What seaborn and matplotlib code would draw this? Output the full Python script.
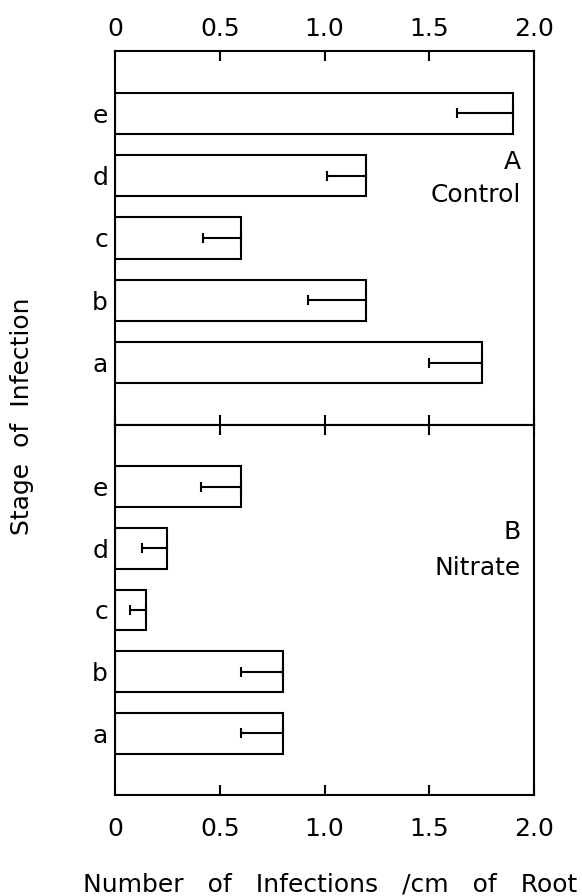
import matplotlib
matplotlib.use("Agg")
import matplotlib.pyplot as plt
import seaborn as sns
import numpy as np
import pandas as pd

stages = ["e", "d", "c", "b", "a"]
control_vals = [1.90, 1.20, 0.60, 1.20, 1.75]
control_err = [0.27, 0.19, 0.18, 0.28, 0.25]
nitrate_vals = [0.60, 0.25, 0.15, 0.80, 0.80]
nitrate_err = [0.19, 0.12, 0.08, 0.20, 0.20]
x_ticks = [0, 0.5, 1.0, 1.5, 2.0]
x_tick_labels = ["0", "0.5", "1.0", "1.5", "2.0"]

sns.set_style("white")
plt.rcParams['font.family'] = ['DejaVu Sans']
plt.rcParams['text.color'] = 'black'
plt.rcParams['xtick.color'] = 'black'
plt.rcParams['ytick.color'] = 'black'
plt.rcParams['axes.labelcolor'] = 'black'

FS = 18

fig = plt.figure(figsize=(5.82, 8.96), dpi=100)
ax1 = fig.add_axes([0.1976, 0.5257, 0.72, 0.4174])
ax2 = fig.add_axes([0.1976, 0.1127, 0.72, 0.4130])

def panel(ax, vals, errs, letter, name, top, ly, ny):
    df = pd.DataFrame({"stage": stages, "value": vals})
    sns.barplot(data=df, x="value", y="stage", order=stages, color="white",
                edgecolor="black", linewidth=1.5, width=0.66, ax=ax,
                saturation=1)
    pos = np.arange(len(stages))
    ax.errorbar(vals, pos, xerr=[errs, [0] * len(errs)], fmt="none",
                ecolor="black", elinewidth=1.5, capsize=3.5, capthick=1.5)
    ax.set_xlim(0, 2.0)
    ax.set_ylim(5, -1)
    ax.set_xlabel("")
    ax.set_ylabel("")
    for s in ax.spines.values():
        s.set_linewidth(1.5)
        s.set_color("black")
        s.set_visible(True)
    ax.set_xticks(x_ticks)
    ax.set_xticklabels(x_tick_labels)
    ax.tick_params(axis="x", direction="in", length=7, width=1.5,
                   top=True, bottom=True, labeltop=top, labelbottom=not top,
                   labelsize=FS, pad=7 if top else 16)
    ax.tick_params(axis="y", length=0, labelsize=FS, pad=5)
    ax.text(0.968, ly, letter, transform=ax.transAxes,
            ha="right", va="center", fontsize=FS)
    ax.text(0.968, ny, name, transform=ax.transAxes,
            ha="right", va="center", fontsize=FS)

panel(ax1, control_vals, control_err, "A", "Control", True, 0.703, 0.615)
panel(ax2, nitrate_vals, nitrate_err, "B", "Nitrate", False, 0.711, 0.614)

fig.text(0.567, 0.005, "Number   of   Infections   /cm   of   Root",
         ha="center", va="baseline", fontsize=FS)
fig.text(0.038, 0.535, "Stage  of  Infection", rotation=90, ha="center",
         va="center", fontsize=FS)

fig.savefig("out.png", dpi=100)
